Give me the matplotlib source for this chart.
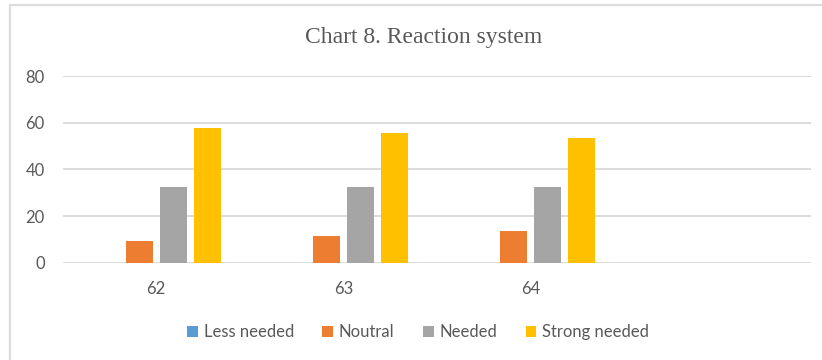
import numpy as np
import matplotlib
matplotlib.use("Agg")
import matplotlib.pyplot as plt
from matplotlib.patches import Rectangle

# survey answers per group, in percent
groups = ["62", "63", "64"]
less_needed = [0, 0, 0]
noutral = [9.4, 11.5, 13.5]
needed = [32.6, 32.6, 32.6]
strong_needed = [57.6, 55.8, 53.7]

series = [
    ("Less needed", less_needed, "#5B9BD5"),
    ("Noutral", noutral, "#ED7D31"),
    ("Needed", needed, "#A5A5A5"),
    ("Strong needed", strong_needed, "#FFC000"),
]

txt = "#595959"
plt.rcParams["font.family"] = ["Lato", "DejaVu Sans"]

W, H = 822, 360
fig = plt.figure(figsize=(W / 100, H / 100), dpi=100)

# outer chart frame, runs off the right and bottom edges
fig.patches.append(Rectangle((10 / W, -0.1), 1.2, (H - 5) / H + 0.1,
                             transform=fig.transFigure, fill=False,
                             edgecolor="#DCDCDC", lw=1.6))

ax = fig.add_axes([62.7 / W, 97.3 / H, (811 - 62.7) / W, (262.7 - 76.2) / H])

x = np.arange(len(groups))
slot = 0.183
bw = 0.145
for i, (name, vals, col) in enumerate(series):
    ax.bar(x + (i - 1.5) * slot, vals, bw, color=col, label=name,
           linewidth=0, zorder=3)

ax.set_ylim(0, 80)
ax.set_xlim(-0.5, 3.5)
ax.set_yticks([0, 20, 40, 60, 80])
ax.set_xticks(x)
ax.set_xticklabels(groups)
ax.grid(axis="y", color="#D9D9D9", lw=1.3, zorder=0)
ax.tick_params(length=0, labelsize=12, labelcolor=txt)
ax.tick_params(axis="y", pad=13)
ax.tick_params(axis="x", pad=13)
for s in ax.spines.values():
    s.set_visible(False)

fig.text(423.5 / W, 1 - 38 / H, "Chart 8. Reaction system",
         family="Liberation Serif", fontsize=17, color=txt,
         ha="center", va="center")

leg = fig.legend(loc="center", bbox_to_anchor=(418 / W, 1 - 332 / H), ncol=4,
                 frameon=False, fontsize=12, handlelength=0.65,
                 handleheight=0.65, handletextpad=0.35, columnspacing=1.7)
for t in leg.get_texts():
    t.set_color(txt)

fig.savefig("out.png", dpi=100)
